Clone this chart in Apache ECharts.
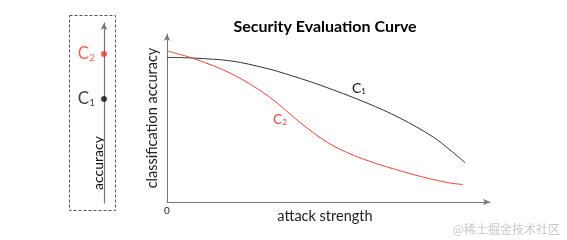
<!DOCTYPE html>
<html><head><meta charset="utf-8">
<script src="https://cdn.jsdelivr.net/npm/echarts@6/dist/echarts.min.js"></script>
<style>html,body{margin:0;padding:0;background:#fff}#c{width:567px;height:240px}</style>
</head><body><div id="c"></div>
<script>
// attack strength (0-100) and classification accuracy (0-100)
const strengthC1 = [0, 8.7, 20.1, 30.3, 35.9, 47.4, 61.9, 72.1, 82.4, 87.6, 92.3];
const accC1      = [86.1, 85.6, 83.9, 79.8, 76.8, 69.6, 58.9, 50.0, 38.7, 31.0, 23.4];
const strengthC2 = [0, 8.7, 20.1, 31.3, 41.8, 50.5, 60.7, 76.2, 86.7, 91.6];
const accC2      = [89.9, 85.1, 76.2, 63.1, 46.4, 34.5, 25.6, 16.4, 11.6, 10.4];
// schematic accuracy axis (left panel)
const panelNames = ['C2', 'C1'];
const panelAcc   = [82.8, 57.8];
const xTickLabels = ['0'];

const FONT = 'Lato';
const RED = '#e8473a';
const chart = echarts.init(document.getElementById('c'), null, {renderer: 'canvas'});
chart.setOption({
  animation: false,
  grid: [
    {left: 167, right: 77, top: 34, bottom: 38},
    {left: 104, width: 1, top: 23, bottom: 37}
  ],
  xAxis: [
    {gridIndex: 0, type: 'value', min: 0, max: 100, interval: 100,
     axisLine: {symbol: ['none', 'arrow'], symbolSize: [5, 7], lineStyle: {color: '#777', width: 1}},
     axisTick: {show: false}, splitLine: {show: false},
     axisLabel: {formatter: v => v === 0 ? xTickLabels[0] : '', color: '#222', fontFamily: FONT, fontSize: 10, margin: 4}},
    {gridIndex: 1, type: 'value', min: 0, max: 1, show: false}
  ],
  yAxis: [
    {gridIndex: 0, type: 'value', min: 0, max: 100,
     axisLine: {show: true, symbol: ['none', 'arrow'], symbolSize: [5, 7], lineStyle: {color: '#777', width: 1}},
     axisTick: {show: false}, axisLabel: {show: false}, splitLine: {show: false},
     name: 'classification accuracy', nameLocation: 'middle', nameGap: 7,
     nameTextStyle: {color: '#222', fontFamily: FONT, fontSize: 14.5}},
    {gridIndex: 1, type: 'value', min: 0, max: 100,
     axisLine: {show: true, symbol: ['none', 'arrow'], symbolSize: [5, 7], lineStyle: {color: '#777', width: 1.2}},
     axisTick: {show: false}, axisLabel: {show: false}, splitLine: {show: false}}
  ],
  series: [
    {type: 'line', xAxisIndex: 0, yAxisIndex: 0, smooth: 0.35, showSymbol: false,
     data: strengthC1.map((x, i) => [x, accC1[i]]), lineStyle: {color: '#333', width: 1}},
    {type: 'line', xAxisIndex: 0, yAxisIndex: 0, smooth: 0.35, showSymbol: false,
     data: strengthC2.map((x, i) => [x, accC2[i]]), lineStyle: {color: RED, width: 1}},
    {type: 'scatter', xAxisIndex: 1, yAxisIndex: 1, symbolSize: 6,
     data: panelNames.map((n, i) => {
       const col = n === 'C2' ? '#e8392c' : '#111';
       return {
         value: [0, panelAcc[i]], name: n,
         itemStyle: {color: col},
         label: {show: true, position: 'left', distance: 6,
           formatter: '{c|C}{s|' + n.slice(1) + '}',
           rich: {c: {fontSize: 17, fontFamily: FONT, color: col},
                  s: {fontSize: 10, fontFamily: FONT, color: col, verticalAlign: 'bottom', padding: [7, 0, 0, 0]}}}
       };
     })}
  ],
  graphic: [
    {type: 'rect', shape: {x: 69.5, y: 15.5, width: 46, height: 195},
     style: {fill: 'none', stroke: '#555', lineWidth: 1, lineDash: [3, 2]}},
    {type: 'text', x: 98, y: 163, rotation: Math.PI / 2,
     style: {text: 'accuracy', fill: '#111', font: '14px ' + FONT, align: 'center', verticalAlign: 'middle'}},
    {type: 'text', x: 325, y: 27,
     style: {text: 'Security Evaluation Curve', fill: '#000', font: 'bold 16px ' + FONT, align: 'center', verticalAlign: 'middle'}},
    {type: 'text', x: 325, y: 216,
     style: {text: 'attack strength', fill: '#222', font: '14.5px ' + FONT, align: 'center', verticalAlign: 'middle'}},
    {type: 'text', x: 352, y: 88,
     style: {text: '{c|C}{s|1}', rich: {c: {fontSize: 14, fontFamily: FONT, fill: '#111'}, s: {fontSize: 8, fontFamily: FONT, fill: '#111', padding: [6, 0, 0, 0]}}, verticalAlign: 'middle'}},
    {type: 'text', x: 273, y: 119,
     style: {text: '{c|C}{s|2}', rich: {c: {fontSize: 14, fontFamily: FONT, fill: RED}, s: {fontSize: 8, fontFamily: FONT, fill: RED, padding: [6, 0, 0, 0]}}, verticalAlign: 'middle'}},
    {type: 'text', x: 560, y: 229,
     style: {text: '@稀土掘金技术社区', fill: '#c8c8c8', font: '12px "Noto Sans CJK SC"', align: 'right', verticalAlign: 'middle'}}
  ]
});
</script></body></html>
